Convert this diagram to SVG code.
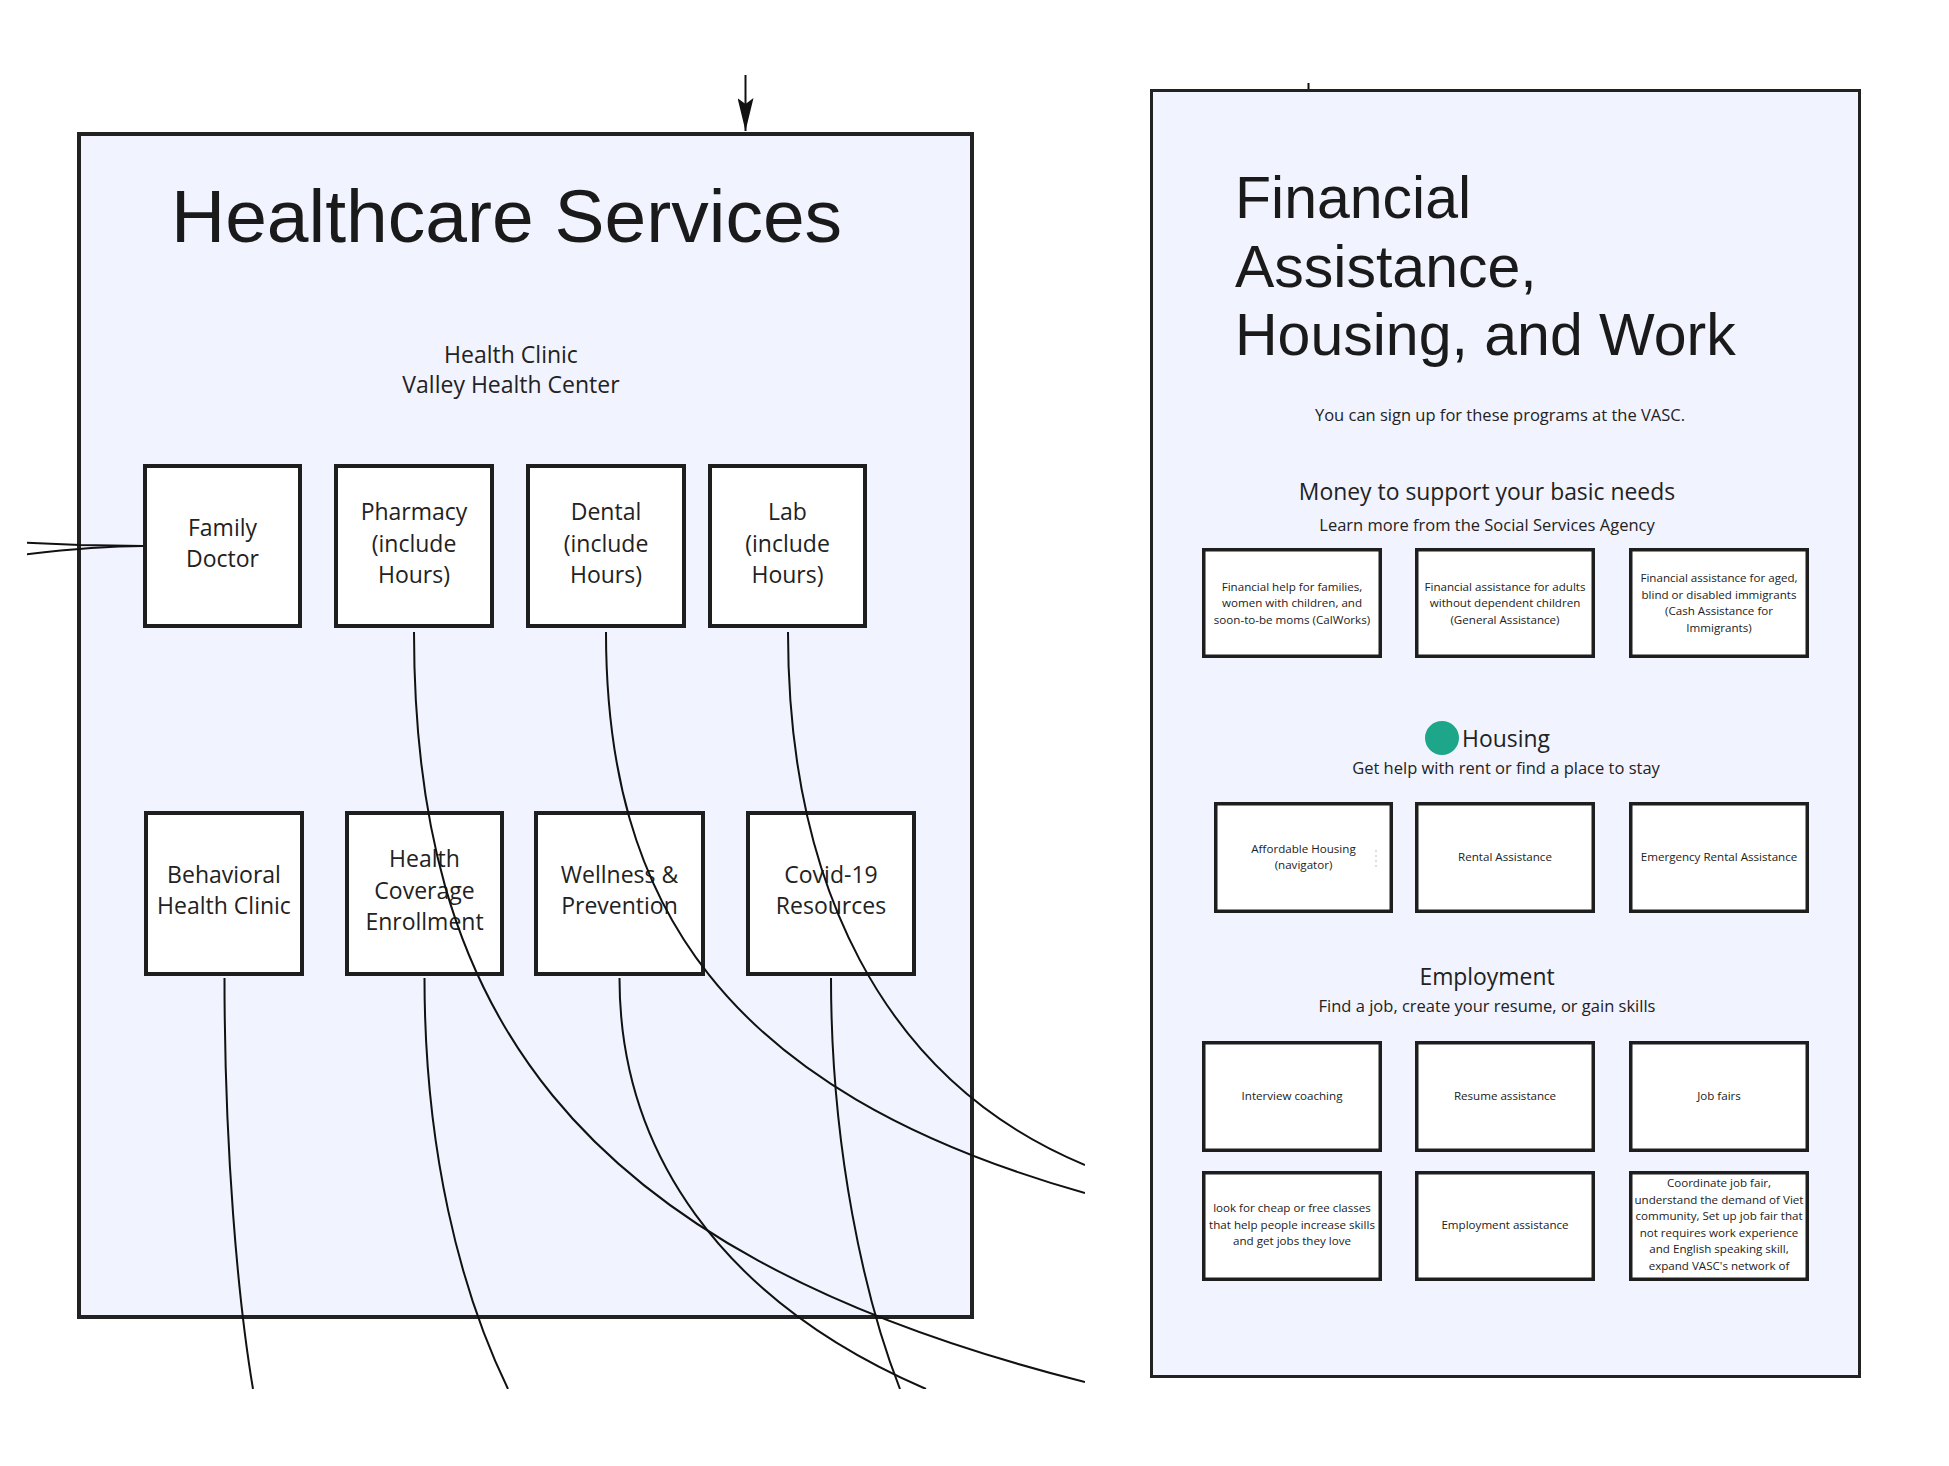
<svg xmlns="http://www.w3.org/2000/svg" width="1949" height="1466" viewBox="0 0 1949 1466">
<defs>
<style>
.panel{fill:#f1f3fe;stroke:#222;}
.box{fill:#fff;stroke:#1e1e1e;stroke-width:4;}
.rbox{fill:#fff;stroke:#1e1e1e;stroke-width:3.5;}
.title{font-family:"Liberation Sans",Arial,sans-serif;fill:#1a1a1a;}
.t{font-family:"Open Sans","Noto Sans",sans-serif;fill:#222;text-anchor:middle;}
.lb{font-size:23px;}
.sm{font-size:11.6px;}
.sub{font-size:16.5px;}
.hd{font-size:22.9px;}
.conn{fill:none;stroke:#111;stroke-width:2;}
</style>
<clipPath id="clip"><rect x="27" y="72" width="1058" height="1317"/></clipPath>
<marker id="arrow" markerUnits="userSpaceOnUse" markerWidth="34" markerHeight="16" refX="33" refY="8" orient="auto" viewBox="0 0 34 16">
<path d="M0,0 L6,8 L0,16 L33,8 Z" fill="#111"/>
</marker>
</defs>
<rect width="1949" height="1466" fill="#fff"/>

<g id="healthcare-panel">
<rect class="panel" x="79" y="134" width="893" height="1183" stroke-width="4"/>
<text class="title" x="171" y="242" font-size="75">Healthcare Services</text>
<text class="t lb" x="511" y="363">Health Clinic</text>
<text class="t lb" x="511" y="393">Valley Health Center</text>
</g>

<g id="family-doctor"><rect class="box" x="145" y="466" width="155" height="160"/>
<text class="t lb"><tspan x="222.5" y="536">Family</tspan><tspan x="222.5" y="567">Doctor</tspan></text></g>
<g id="pharmacy"><rect class="box" x="336" y="466" width="156" height="160"/>
<text class="t lb"><tspan x="414" y="520">Pharmacy</tspan><tspan x="414" y="551.5">(include</tspan><tspan x="414" y="583">Hours)</tspan></text></g>
<g id="dental"><rect class="box" x="528" y="466" width="156" height="160"/>
<text class="t lb"><tspan x="606" y="520">Dental</tspan><tspan x="606" y="551.5">(include</tspan><tspan x="606" y="583">Hours)</tspan></text></g>
<g id="lab"><rect class="box" x="710" y="466" width="155" height="160"/>
<text class="t lb"><tspan x="787.5" y="520">Lab</tspan><tspan x="787.5" y="551.5">(include</tspan><tspan x="787.5" y="583">Hours)</tspan></text></g>

<g id="behavioral-health"><rect class="box" x="146" y="813" width="156" height="161"/>
<text class="t lb"><tspan x="224" y="883">Behavioral</tspan><tspan x="224" y="914">Health Clinic</tspan></text></g>
<g id="health-coverage"><rect class="box" x="347" y="813" width="155" height="161"/>
<text class="t lb"><tspan x="424.5" y="867">Health</tspan><tspan x="424.5" y="899">Coverage</tspan><tspan x="424.5" y="930">Enrollment</tspan></text></g>
<g id="wellness"><rect class="box" x="536" y="813" width="167" height="161"/>
<text class="t lb"><tspan x="619.5" y="883">Wellness &amp;</tspan><tspan x="619.5" y="914">Prevention</tspan></text></g>
<g id="covid"><rect class="box" x="748" y="813" width="166" height="161"/>
<text class="t lb"><tspan x="831" y="883">Covid-19</tspan><tspan x="831" y="914">Resources</tspan></text></g>

<g id="financial-panel">
<rect class="panel" x="1151.5" y="90.5" width="708" height="1286" stroke-width="3"/>
<text class="title" font-size="59"><tspan x="1235" y="218">Financial</tspan><tspan x="1235" y="287">Assistance,</tspan><tspan x="1235" y="355">Housing, and Work</tspan></text>
<text class="t sub" x="1500" y="421">You can sign up for these programs at the VASC.</text>
<text class="t hd" x="1487" y="500">Money to support your basic needs</text>
<text class="t sub" x="1487" y="531">Learn more from the Social Services Agency</text>
<circle cx="1442" cy="738" r="17" fill="#1ea68a"/>
<text class="t hd" x="1506" y="747">Housing</text>
<text class="t sub" x="1506" y="774">Get help with rent or find a place to stay</text>
<text class="t hd" x="1487" y="985">Employment</text>
<text class="t sub" x="1487" y="1012">Find a job, create your resume, or gain skills</text>
</g>

<g id="calworks"><rect class="rbox" x="1203.75" y="549.75" width="176.5" height="106.5"/>
<text class="t sm"><tspan x="1292" y="590.5">Financial help for families,</tspan><tspan x="1292" y="607">women with children, and</tspan><tspan x="1292" y="623.5">soon-to-be moms (CalWorks)</tspan></text></g>
<g id="general-assistance"><rect class="rbox" x="1416.75" y="549.75" width="176.5" height="106.5"/>
<text class="t sm"><tspan x="1505" y="590.5">Financial assistance for adults</tspan><tspan x="1505" y="607">without dependent children</tspan><tspan x="1505" y="623.5">(General Assistance)</tspan></text></g>
<g id="cash-assistance"><rect class="rbox" x="1630.75" y="549.75" width="176.5" height="106.5"/>
<text class="t sm"><tspan x="1719" y="582">Financial assistance for aged,</tspan><tspan x="1719" y="598.5">blind or disabled immigrants</tspan><tspan x="1719" y="615">(Cash Assistance for</tspan><tspan x="1719" y="631.5">Immigrants)</tspan></text></g>

<g id="affordable-housing"><rect class="rbox" x="1215.75" y="803.75" width="175.5" height="107.5"/>
<text class="t sm"><tspan x="1303.5" y="853">Affordable Housing</tspan><tspan x="1303.5" y="869">(navigator)</tspan></text>
<line x1="1376" y1="850" x2="1376" y2="868" stroke="#c8c8c8" stroke-width="1.2" stroke-dasharray="2 3"/></g>
<g id="rental-assistance"><rect class="rbox" x="1416.75" y="803.75" width="176.5" height="107.5"/>
<text class="t sm" x="1505" y="861">Rental Assistance</text></g>
<g id="emergency-rental"><rect class="rbox" x="1630.75" y="803.75" width="176.5" height="107.5"/>
<text class="t sm" x="1719" y="861">Emergency Rental Assistance</text></g>

<g id="interview-coaching"><rect class="rbox" x="1203.75" y="1042.75" width="176.5" height="107.5"/>
<text class="t sm" x="1292" y="1100">Interview coaching</text></g>
<g id="resume-assistance"><rect class="rbox" x="1416.75" y="1042.75" width="176.5" height="107.5"/>
<text class="t sm" x="1505" y="1100">Resume assistance</text></g>
<g id="job-fairs"><rect class="rbox" x="1630.75" y="1042.75" width="176.5" height="107.5"/>
<text class="t sm" x="1719" y="1100">Job fairs</text></g>

<g id="classes"><rect class="rbox" x="1203.75" y="1172.75" width="176.5" height="106.5"/>
<text class="t sm"><tspan x="1292" y="1212">look for cheap or free classes</tspan><tspan x="1292" y="1228.5">that help people increase skills</tspan><tspan x="1292" y="1245">and get jobs they love</tspan></text></g>
<g id="employment-assistance"><rect class="rbox" x="1416.75" y="1172.75" width="176.5" height="106.5"/>
<text class="t sm" x="1505" y="1229">Employment assistance</text></g>
<g id="coordinate-job-fair"><rect class="rbox" x="1630.75" y="1172.75" width="176.5" height="106.5"/>
<text class="t sm"><tspan x="1719" y="1187">Coordinate job fair,</tspan><tspan x="1719" y="1203.5">understand the demand of Viet</tspan><tspan x="1719" y="1220">community, Set up job fair that</tspan><tspan x="1719" y="1236.5">not requires work experience</tspan><tspan x="1719" y="1253">and English speaking skill,</tspan><tspan x="1719" y="1269.5">expand VASC's network of</tspan></text></g>

<g id="connectors">
<g clip-path="url(#clip)">
<line class="conn" x1="745.5" y1="75" x2="745.5" y2="131" marker-end="url(#arrow)"/>
<path class="conn" d="M143,546 L80,545 L20,542.5"/>
<path class="conn" d="M143,546 Q95,546 20,555"/>
<path class="conn" d="M224.5,978 C224.5,1150 238,1300 253,1389"/>
<path class="conn" d="M424.5,978 C424.5,1150 460,1290 508,1389"/>
<path class="conn" d="M619.5,978 C619.5,1150 720,1300 926,1389"/>
<path class="conn" d="M831,978 C831,1150 865,1300 900,1389"/>
<path class="conn" d="M414,632 C414,1000 560,1250 1085,1382"/>
<path class="conn" d="M606,632 C606,900 720,1090 1085,1193"/>
<path class="conn" d="M788,632 C788,880 880,1080 1085,1165"/>
</g>
<line class="conn" x1="1308.5" y1="83" x2="1308.5" y2="89" stroke-width="2.5"/>
</g>
</svg>
